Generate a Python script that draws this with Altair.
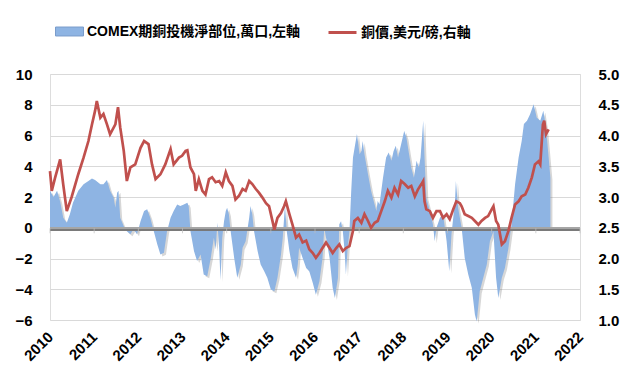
import altair as alt
import pandas as pd

# ---- data ----
net_label = "COMEX期銅投機淨部位,萬口,左軸"
price_label = "銅價,美元/磅,右軸"

net_years = [
    2010.00, 2010.08, 2010.16, 2010.23, 2010.30, 2010.38, 2010.45, 2010.52, 2010.64, 2010.76,
    2010.87, 2010.95, 2011.02, 2011.14, 2011.21, 2011.29, 2011.36, 2011.44, 2011.48, 2011.52,
    2011.55, 2011.59, 2011.67, 2011.74, 2011.82, 2011.89, 2011.97, 2012.05, 2012.13, 2012.20,
    2012.27, 2012.35, 2012.43, 2012.50, 2012.58, 2012.65, 2012.73, 2012.80, 2012.88, 2012.95,
    2013.03, 2013.11, 2013.14, 2013.18, 2013.26, 2013.33, 2013.41, 2013.48, 2013.56, 2013.64,
    2013.71, 2013.75, 2013.79, 2013.83, 2013.86, 2013.90, 2013.94, 2013.98, 2014.01, 2014.05,
    2014.09, 2014.17, 2014.24, 2014.32, 2014.36, 2014.43, 2014.51, 2014.54, 2014.58, 2014.62,
    2014.70, 2014.77, 2014.85, 2014.92, 2015.00, 2015.08, 2015.15, 2015.23, 2015.27, 2015.32,
    2015.36, 2015.42, 2015.49, 2015.57, 2015.61, 2015.64, 2015.72, 2015.80, 2015.87, 2015.95,
    2016.02, 2016.10, 2016.17, 2016.21, 2016.25, 2016.33, 2016.40, 2016.45, 2016.52, 2016.55,
    2016.59, 2016.63, 2016.67, 2016.70, 2016.74, 2016.78, 2016.82, 2016.86, 2016.91, 2016.95,
    2017.01, 2017.05, 2017.08, 2017.12, 2017.20, 2017.27, 2017.35, 2017.39, 2017.42, 2017.46,
    2017.54, 2017.61, 2017.67, 2017.73, 2017.78, 2017.83, 2017.88, 2017.95, 2018.02, 2018.07,
    2018.13, 2018.18, 2018.24, 2018.30, 2018.35, 2018.39, 2018.45, 2018.48, 2018.52, 2018.60,
    2018.67, 2018.71, 2018.75, 2018.83, 2018.90, 2018.98, 2019.04, 2019.09, 2019.17, 2019.19,
    2019.24, 2019.32, 2019.39, 2019.47, 2019.55, 2019.62, 2019.66, 2019.70, 2019.73, 2019.81,
    2019.89, 2019.96, 2020.04, 2020.10, 2020.15, 2020.23, 2020.30, 2020.38, 2020.45, 2020.53,
    2020.61, 2020.68, 2020.73, 2020.80, 2020.87, 2020.95, 2021.02, 2021.10, 2021.17, 2021.23,
    2021.29, 2021.33,
]
net_values = [
    2.4, 2.0, 2.4, 1.7, 0.65, 0.33, 0.87, 1.63, 2.4, 2.83,
    3.04, 3.2, 3.1, 2.83, 2.83, 3.1, 2.4, 1.96, 1.3, 2.28,
    2.4, 0.65, 0.1, -0.22, -0.43, -0.1, -0.43, 0.43, 1.09, 1.2,
    0.65, -0.22, -1.09, -1.74, -1.63, -0.22, 0.65, 1.09, 1.52, 1.41,
    1.52, 1.63, 1.41, -0.22, -1.52, -2.17, -1.74, -3.04, -3.15, -1.96,
    -0.65, -1.41, 0.33, -1.3, -3.4, -0.65, 0.43, 1.09, 1.3, 0.87,
    -0.22, -1.96, -3.26, -2.39, -1.3, -0.87, 0.65, 1.41, 0.87, -0.22,
    -1.52, -2.39, -2.83, -3.26, -4.02, -4.13, -3.26, -1.74, -0.65, 1.5,
    -0.22, -1.52, -2.61, -3.26, -2.39, -1.3, -1.96, -2.61, -2.83, -3.59,
    -4.35, -3.48, -1.96, 0.0, -0.65, -1.96, -3.91, -4.57, -3.26, 0.22,
    0.43, -0.22, -1.52, -3.04, -1.3, -0.22, 2.39, 4.57, 5.43, 6.09,
    4.78, 5.0, 5.65, 4.78, 3.48, 2.39, 1.52, 1.09, 1.74, 1.52,
    3.26, 4.57, 4.89, 4.35, 5.0, 5.33, 4.57, 5.43, 6.3, 5.87,
    4.78, 3.91, 3.26, 4.35, 3.91, 4.57, 6.96, 4.57, 1.96, 1.09,
    0.22, -0.87, 0.0, 0.65, 0.87, -0.87, -2.83, -0.43, 1.74, 3.04,
    1.3, 0.0, -1.96, -3.04, -3.91, -5.65, -6.09, -5.0, -4.13, -3.26,
    -2.39, -0.87, -0.22, -3.26, -4.57, -3.26, -2.61, -1.3, 0.22, 2.83,
    4.57, 5.65, 6.74, 6.96, 7.39, 8.04, 7.17, 6.96, 7.61, 6.52,
    4.57, 3.26,
]

price_years = [
    2010.00, 2010.04, 2010.11, 2010.23, 2010.30, 2010.38, 2010.49, 2010.64, 2010.76, 2010.87,
    2010.95, 2011.02, 2011.06, 2011.14, 2011.21, 2011.29, 2011.36, 2011.48, 2011.54, 2011.59,
    2011.67, 2011.74, 2011.82, 2011.93, 2012.05, 2012.13, 2012.23, 2012.31, 2012.39, 2012.50,
    2012.61, 2012.73, 2012.80, 2012.92, 2012.99, 2013.07, 2013.11, 2013.18, 2013.26, 2013.30,
    2013.37, 2013.45, 2013.52, 2013.60, 2013.67, 2013.75, 2013.83, 2013.90, 2013.98, 2014.05,
    2014.13, 2014.20, 2014.28, 2014.36, 2014.43, 2014.51, 2014.58, 2014.66, 2014.73, 2014.81,
    2014.89, 2014.96, 2015.04, 2015.08, 2015.15, 2015.23, 2015.30, 2015.34, 2015.42, 2015.49,
    2015.57, 2015.64, 2015.72, 2015.80, 2015.87, 2015.95, 2016.02, 2016.10, 2016.17, 2016.25,
    2016.33, 2016.40, 2016.48, 2016.55, 2016.63, 2016.70, 2016.78, 2016.86, 2016.89, 2016.97,
    2017.05, 2017.12, 2017.20, 2017.27, 2017.35, 2017.42, 2017.50, 2017.58, 2017.65, 2017.73,
    2017.80, 2017.88, 2017.95, 2018.03, 2018.11, 2018.18, 2018.26, 2018.33, 2018.41, 2018.45,
    2018.48, 2018.52, 2018.60, 2018.67, 2018.75, 2018.83, 2018.90, 2018.98, 2019.05, 2019.13,
    2019.20, 2019.28, 2019.32, 2019.39, 2019.47, 2019.55, 2019.62, 2019.70, 2019.77, 2019.85,
    2019.92, 2020.00, 2020.04, 2020.10, 2020.15, 2020.23, 2020.30, 2020.38, 2020.45, 2020.53,
    2020.61, 2020.68, 2020.76, 2020.83, 2020.91, 2020.98, 2021.06, 2021.10, 2021.16, 2021.19,
    2021.23, 2021.29,
]
price_values = [
    3.42, 3.10, 3.30, 3.61, 3.20, 2.77, 3.00, 3.37, 3.64, 3.91,
    4.18, 4.40, 4.56, 4.29, 4.35, 4.18, 4.02, 4.18, 4.46, 4.13,
    3.75, 3.26, 3.48, 3.53, 3.80, 3.91, 3.86, 3.53, 3.29, 3.37,
    3.53, 3.78, 3.53, 3.64, 3.67, 3.75, 3.76, 3.48, 3.37, 3.10,
    3.29, 3.10, 3.04, 3.29, 3.32, 3.24, 3.26, 3.18, 3.40, 3.26,
    3.18, 2.96, 3.02, 3.13, 3.10, 3.26, 3.21, 3.13, 3.07, 2.99,
    2.90, 2.85, 2.60, 2.47, 2.66, 2.74, 2.85, 2.93, 2.72, 2.55,
    2.34, 2.39, 2.26, 2.29, 2.15, 2.09, 2.01, 2.09, 2.17, 2.26,
    2.17, 2.09, 2.17, 2.23, 2.12, 2.17, 2.20, 2.45, 2.61, 2.66,
    2.58, 2.72, 2.61, 2.50, 2.58, 2.61, 2.77, 2.93, 3.10, 2.99,
    3.15, 3.04, 3.26, 3.21, 3.15, 3.18, 3.01, 3.12, 3.21, 3.26,
    2.93, 2.80, 2.77, 2.66, 2.77, 2.77, 2.66, 2.72, 2.64, 2.80,
    2.93, 2.90, 2.85, 2.72, 2.69, 2.66, 2.61, 2.55, 2.61, 2.66,
    2.69, 2.80, 2.85, 2.61, 2.55, 2.23, 2.28, 2.45, 2.66, 2.88,
    2.93, 3.01, 3.04, 3.15, 3.32, 3.53, 3.58, 3.53, 4.18, 4.24,
    4.02, 4.10,
]

year_ticks = list(range(2010, 2023))
left_ticks = [-6, -4, -2, 0, 2, 4, 6, 8, 10]
right_ticks = [1.0, 1.5, 2.0, 2.5, 3.0, 3.5, 4.0, 4.5, 5.0]

net_df = pd.DataFrame({"year": net_years, "net": net_values, "series": net_label})
price_df = pd.DataFrame({"year": price_years, "price": price_values, "series": price_label})
tick_df = pd.DataFrame({"year": year_ticks, "net": [0] * len(year_ticks)})

FONT = "Liberation Sans, Noto Sans CJK TC, sans-serif"
BLUE = "#8EB4E3"
RED = "#C0504D"

x_scale = alt.Scale(domain=[2010, 2022], nice=False, zero=False)
x_axis = alt.Axis(values=year_ticks, format="d", labelAngle=-45, labelAlign="right",
                  labelBaseline="middle", labelPadding=14, domain=False, ticks=False,
                  grid=False, title=None, labelFontSize=15, labelFontWeight="bold",
                  labelColor="#000000", labelFont=FONT)
x_enc = alt.X("year:Q", scale=x_scale, axis=x_axis)

left_scale = alt.Scale(domain=[-6, 10], nice=False, zero=False)
left_axis = alt.Axis(values=left_ticks, grid=True, gridColor="#D9D9D9", gridWidth=1,
                     domain=False, ticks=False, labelPadding=18, title=None,
                     labelFontSize=15, labelFontWeight="bold", labelColor="#000000",
                     labelFont=FONT)
y_left = alt.Y("net:Q", scale=left_scale, axis=left_axis)

shadow = alt.Chart(net_df).mark_area(
    color="#6f6f6f", opacity=0.28, xOffset=2, yOffset=2, y2Offset=2
).encode(x=x_enc, y=y_left)

area = alt.Chart(net_df).mark_area(opacity=1).encode(
    x=x_enc,
    y=y_left,
    color=alt.Color(
        "series:N",
        scale=alt.Scale(domain=[net_label], range=[BLUE]),
        legend=alt.Legend(
            title=None, orient="none", legendX=5, legendY=-57,
            symbolType="M-1,-0.32H1V0.32H-1Z", symbolSize=784,
            symbolStrokeColor="#7A9CCB", symbolStrokeWidth=1, symbolOpacity=1,
            labelFont=FONT, labelFontSize=14, labelFontWeight="bold",
            labelColor="#000000", labelOffset=3, labelLimit=400,
        ),
    ),
)

zero_shadow = alt.Chart(tick_df).mark_rule(
    color="#777777", opacity=0.25, strokeWidth=2.5, yOffset=2
).encode(y=y_left)
zero_line = alt.Chart(tick_df).mark_rule(color="#A6A6A6", strokeWidth=1).encode(y=y_left)
ticks = alt.Chart(tick_df).mark_tick(
    orient="vertical", size=5, thickness=1, color="#BFBFBF", yOffset=3
).encode(x=x_enc, y=y_left)

left_layer = alt.layer(shadow, area, zero_shadow, zero_line, ticks)

line = alt.Chart(price_df).mark_line(strokeWidth=2.7).encode(
    x=x_enc,
    y=alt.Y("price:Q", scale=alt.Scale(domain=[1.0, 5.0], nice=False, zero=False),
            axis=alt.Axis(orient="right", values=right_ticks, format=".1f", grid=False,
                          domain=False, ticks=False, labelPadding=18, title=None,
                          labelFontSize=15, labelFontWeight="bold", labelColor="#000000",
                          labelFont=FONT)),
    stroke=alt.Stroke(
        "series:N",
        scale=alt.Scale(domain=[price_label], range=[RED]),
        legend=alt.Legend(
            title=None, orient="none", legendX=277, legendY=-57,
            symbolType="stroke", symbolSize=784, symbolStrokeWidth=3,
            labelFont=FONT, labelFontSize=14, labelFontWeight="bold",
            labelColor="#000000", labelOffset=3, labelLimit=300,
        ),
    ),
)

chart = alt.layer(left_layer, line).resolve_scale(y="independent").properties(
    width=530, height=246,
    autosize=alt.AutoSizeParams(type="none"),
    padding={"left": 42, "top": 66, "right": 52, "bottom": 53},
).configure_view(stroke=None).configure(background="white")

chart.save("out.html", embed_options={"renderer": "svg", "actions": False})
